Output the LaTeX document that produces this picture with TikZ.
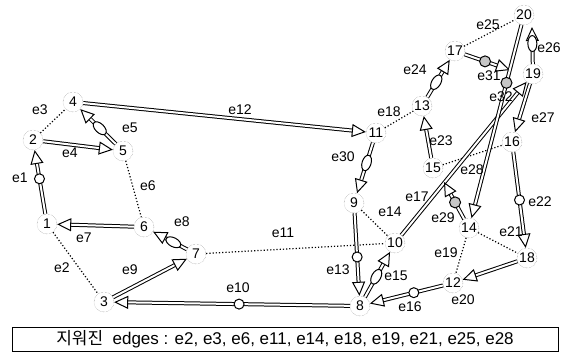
\documentclass[tikz,border=0pt]{standalone}
\usepackage{fontspec}
\setmainfont{Liberation Sans}
\newfontfamily\krfont{Noto Sans CJK KR}
\usetikzlibrary{arrows.meta,shapes.geometric,calc}
\begin{document}
\begin{tikzpicture}[x=1pt,y=-1pt,
  vtx/.style={circle, draw=gray, densely dotted, thin, minimum size=20pt, inner sep=0pt, font=\fontsize{14}{14}\selectfont},
  lbl/.style={font=\fontsize{14}{14}\selectfont, inner sep=0pt},
  rm/.style={dotted, line width=1.2pt},
  arr/.style={double, double distance=2pt, line width=1pt, -{Triangle[open, length=14pt, width=13pt, line width=1pt]}},
  bead/.style={circle, draw, fill=white, line width=1pt, inner sep=0pt, minimum size=10pt},
  gbead/.style={circle, draw, fill=gray!45, line width=1pt, inner sep=0pt, minimum size=11pt},
  kb/.style={ellipse, draw, fill=white, line width=1pt, inner sep=0pt, minimum width=16pt, minimum height=9pt, sloped},
]
\useasboundingbox (0,0) rectangle (571,363);
% vertices
\node[vtx] (1) at (47,224) {1};
\node[vtx] (2) at (33,140) {2};
\node[vtx] (3) at (104,302) {3};
\node[vtx] (4) at (73,102) {4};
\node[vtx] (5) at (123,151) {5};
\node[vtx] (6) at (144,227) {6};
\node[vtx] (7) at (196,254) {7};
\node[vtx] (8) at (360,306) {8};
\node[vtx] (9) at (354,203) {9};
\node[vtx] (10) at (395,243) {10};
\node[vtx] (11) at (376,133) {11};
\node[vtx] (12) at (453,283) {12};
\node[vtx] (13) at (422,106) {13};
\node[vtx] (14) at (469,228) {14};
\node[vtx] (15) at (433,168) {15};
\node[vtx] (16) at (512,142) {16};
\node[vtx] (17) at (455,51) {17};
\node[vtx] (18) at (527,258) {18};
\node[vtx] (19) at (533,74) {19};
\node[vtx] (20) at (524,15) {20};
\coordinate (j29) at (444,182);
\coordinate (j31) at (510,70);
\coordinate (c26) at (532,27);
% removed (dotted) edges
\draw[rm] (1) -- (3);
\draw[rm] (2) -- (4);
\draw[rm] (5) -- (6);
\draw[rm] (7) -- (10);
\draw[rm] (9) -- (10);
\draw[rm] (11) -- (13);
\draw[rm] (14) -- (12);
\draw[rm] (14) -- (18);
\draw[rm] (17) -- (20);
\draw[rm] (15) -- (16);
% directed edges
\draw[arr] (1) -- (2);
\draw[arr] (2) -- (5);
\draw[arr] (5) -- (4);
\draw[arr] (6) -- (1);
\draw[arr] (7) -- (6);
\draw[arr] (3) -- (7);
\draw[arr] (8) -- (3);
\draw[arr] (4) -- (11);
\draw[arr] (9) -- (8);
\draw[arr] (8) -- (10);
\draw[arr] (12) -- (8);
\draw[arr] (10) -- (19);
\draw[arr] (18) -- (12);
\draw[arr] (16) -- (18);
\draw[arr] (15) -- (13);
\draw[arr] (13) -- (17);
\draw[arr] (19) -- (c26);
\draw[arr] (19) -- (16);
\draw[arr] (14) -- (j29);
\draw[arr] (11) -- (9);
\draw[arr] (17) -- (j31);
\draw[arr] (20) -- (14);
% beads
\path (1) -- node[bead, pos=.55] {} (2);
\path (8) -- node[bead, pos=.47] {} (3);
\path (9) -- node[bead, pos=.53] {} (8);
\path (12) -- node[bead, pos=.4] {} (8);
\path (16) -- node[bead, pos=.5] {} (18);
\path (5) -- node[kb, pos=.45] {} (4);
\path (7) -- node[kb, pos=.4] {} (6);
\path (8) -- node[kb, pos=.45] {} (10);
\path (13) -- node[kb, pos=.4] {} (17);
\path (19) -- node[kb, pos=.55] {} (c26);
\path (11) -- node[kb, pos=.4] {} (9);
\path (14) -- node[gbead, pos=.45] {} (j29);
\path (17) -- node[gbead, pos=.45] {} (j31);
\path (20) -- node[gbead, pos=.3] {} (14);
% labels
\node[lbl] (le1) at (20,178) {e1};
\node[lbl] (le2) at (62,268) {e2};
\node[lbl] (le3) at (40,110) {e3};
\node[lbl] (le4) at (70,153) {e4};
\node[lbl] (le5) at (130,128) {e5};
\node[lbl] (le6) at (148,186) {e6};
\node[lbl] (le7) at (84,238) {e7};
\node[lbl] (le8) at (182,222) {e8};
\node[lbl] (le9) at (130,270) {e9};
\node[lbl] (le10) at (238,288) {e10};
\node[lbl] (le11) at (283,233) {e11};
\node[lbl] (le12) at (240,110) {e12};
\node[lbl] (le13) at (338,270) {e13};
\node[lbl] (le14) at (390,212) {e14};
\node[lbl] (le15) at (396,276) {e15};
\node[lbl] (le16) at (410,307) {e16};
\node[lbl] (le17) at (417,197) {e17};
\node[lbl] (le18) at (389,112) {e18};
\node[lbl] (le19) at (446,253) {e19};
\node[lbl] (le20) at (463,300) {e20};
\node[lbl] (le21) at (511,232) {e21};
\node[lbl] (le22) at (540,202) {e22};
\node[lbl] (le23) at (441,141) {e23};
\node[lbl] (le24) at (415,70) {e24};
\node[lbl] (le25) at (488,25) {e25};
\node[lbl] (le26) at (549,48) {e26};
\node[lbl] (le27) at (543,118) {e27};
\node[lbl] (le28) at (472,170) {e28};
\node[lbl] (le29) at (443,218) {e29};
\node[lbl] (le30) at (343,157) {e30};
\node[lbl] (le31) at (489,76) {e31};
\node[lbl] (le32) at (501,97) {e32};
% legend box
\node[draw, line width=0.8pt, minimum width=546pt, minimum height=24pt, inner sep=0pt, font=\fontsize{17}{17}\selectfont] (legend) at (285,339) {{\krfont 지워진}\ \ edges : e2, e3, e6, e11, e14, e18, e19, e21, e25, e28};
\end{tikzpicture}
\end{document}
